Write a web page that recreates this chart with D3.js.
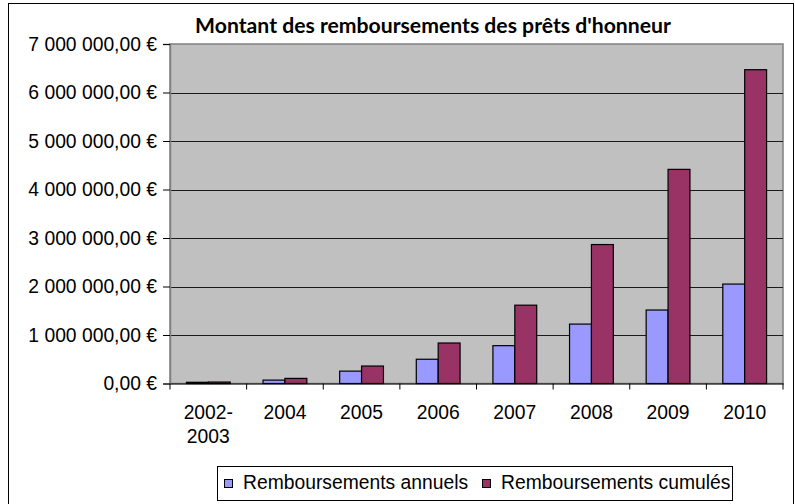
<!DOCTYPE html>
<html>
<head>
<meta charset="utf-8">
<script src="https://cdn.jsdelivr.net/npm/d3@7"></script>
<style>
  html, body { margin: 0; padding: 0; background: #fff; }
  svg { display: block; }
</style>
</head>
<body>
<svg id="chart" width="795" height="504"></svg>
<script>
const title = "Montant des remboursements des prêts d'honneur";
const categories = ["2002-2003", "2004", "2005", "2006", "2007", "2008", "2009", "2010"];
const categoryLabels = [["2002-", "2003"], ["2004"], ["2005"], ["2006"], ["2007"], ["2008"], ["2009"], ["2010"]];
const seriesNames = ["Remboursements annuels", "Remboursements cumulés"];
const annuels = [25000, 70000, 255000, 500000, 780000, 1225000, 1515000, 2050000];
const cumules = [30000, 105000, 360000, 835000, 1615000, 2865000, 4415000, 6470000];
const yTicks = [0, 1000000, 2000000, 3000000, 4000000, 5000000, 6000000, 7000000];
const colors = ["#9999FF", "#993366"];

const svg = d3.select("#chart");
const W = 795, H = 504;
const plot = { left: 170, top: 44, right: 783, bottom: 383.5 };
const font = "'Liberation Sans', Arial, sans-serif";
const fs = 19.3;

// outer border
svg.append("rect").attr("x", 8.5).attr("y", 3.5).attr("width", 785).attr("height", 504)
  .attr("fill", "#fff").attr("stroke", "#000").attr("stroke-width", 1);

// title
const t = svg.append("text").attr("x", 433).attr("y", 32.5).attr("text-anchor", "middle")
  .attr("font-family", "Lato, 'Open Sans', sans-serif").attr("font-weight", "bold")
  .attr("font-size", 19).attr("fill", "#000").text(title);
const tw = t.node().getComputedTextLength();
t.attr("font-size", 19 * 476 / tw);

const x0 = d3.scaleBand().domain(categories).range([plot.left, plot.right])
  .paddingInner(3 / 7).paddingOuter(1.5 / 7);
const x1 = d3.scaleBand().domain([0, 1]).range([0, x0.bandwidth()]);
const y = d3.scaleLinear().domain([0, 7000000]).range([plot.bottom, plot.top]);

// plot background
svg.append("rect").attr("x", plot.left).attr("y", plot.top)
  .attr("width", plot.right - plot.left).attr("height", plot.bottom - plot.top)
  .attr("fill", "#C0C0C0").attr("stroke", "#808080").attr("stroke-width", 1.5);

// gridlines
svg.append("g").selectAll("line").data(yTicks.filter(d => d > 0 && d < 7000000)).join("line")
  .attr("x1", plot.left).attr("x2", plot.right)
  .attr("y1", d => Math.round(y(d)) + 0.5).attr("y2", d => Math.round(y(d)) + 0.5)
  .attr("stroke", "#1a1a1a").attr("stroke-width", 1.2);

// bars
const series = [annuels, cumules];
const g = svg.append("g");
categories.forEach((c, i) => {
  series.forEach((s, j) => {
    g.append("rect")
      .attr("x", x0(c) + x1(j))
      .attr("y", y(s[i]))
      .attr("width", x1.bandwidth())
      .attr("height", y(0) - y(s[i]))
      .attr("fill", colors[j])
      .attr("stroke", "#000").attr("stroke-width", 1.2);
  });
});

// y axis
const fmt = v => d3.format(",.2f")(v).replace(/,/g, " ").replace(".", ",") + " €";
const yAxis = d3.axisLeft(y).tickValues(yTicks).tickSize(7).tickPadding(6).tickFormat(fmt);
const ya = svg.append("g").attr("transform", `translate(${plot.left},0)`).call(yAxis);
ya.select(".domain").attr("stroke", "#808080").attr("stroke-width", 1.5);
ya.selectAll(".tick line").attr("stroke", "#000");
ya.selectAll(".tick text").attr("font-family", font).attr("font-size", fs).attr("fill", "#000");

// x axis
const xAxis = d3.axisBottom(x0).tickSize(0).tickFormat("");
const xa = svg.append("g").attr("transform", `translate(0,${plot.bottom})`).call(xAxis);
xa.select(".domain").attr("stroke", "#000").attr("stroke-width", 1.2);
// category boundary ticks
const bounds = d3.range(categories.length + 1).map(i => plot.left + i * x0.step());
xa.selectAll(".bound").data(bounds).join("line").attr("class", "bound")
  .attr("x1", d => d).attr("x2", d => d).attr("y1", 0).attr("y2", 6)
  .attr("stroke", "#000").attr("stroke-width", 1);
// labels
categories.forEach((c, i) => {
  const tx = svg.append("text").attr("text-anchor", "middle")
    .attr("font-family", font).attr("font-size", fs).attr("fill", "#000");
  categoryLabels[i].forEach((line, k) => {
    tx.append("tspan").attr("x", x0(c) + x0.bandwidth() / 2).attr("y", 418.5 + k * 24.3).text(line);
  });
});

// legend
svg.append("rect").attr("x", 217.5).attr("y", 466.5).attr("width", 515).attr("height", 34)
  .attr("fill", "#fff").attr("stroke", "#000").attr("stroke-width", 1);
const legendX = [224, 482];
seriesNames.forEach((n, j) => {
  svg.append("rect").attr("x", legendX[j] + 0.5).attr("y", 479.5).attr("width", 8).attr("height", 8)
    .attr("fill", colors[j]).attr("stroke", "#000").attr("stroke-width", 1);
  svg.append("text").attr("x", legendX[j] + 19).attr("y", 489)
    .attr("font-family", font).attr("font-size", fs).attr("fill", "#000").text(n);
});
</script>
</body>
</html>
